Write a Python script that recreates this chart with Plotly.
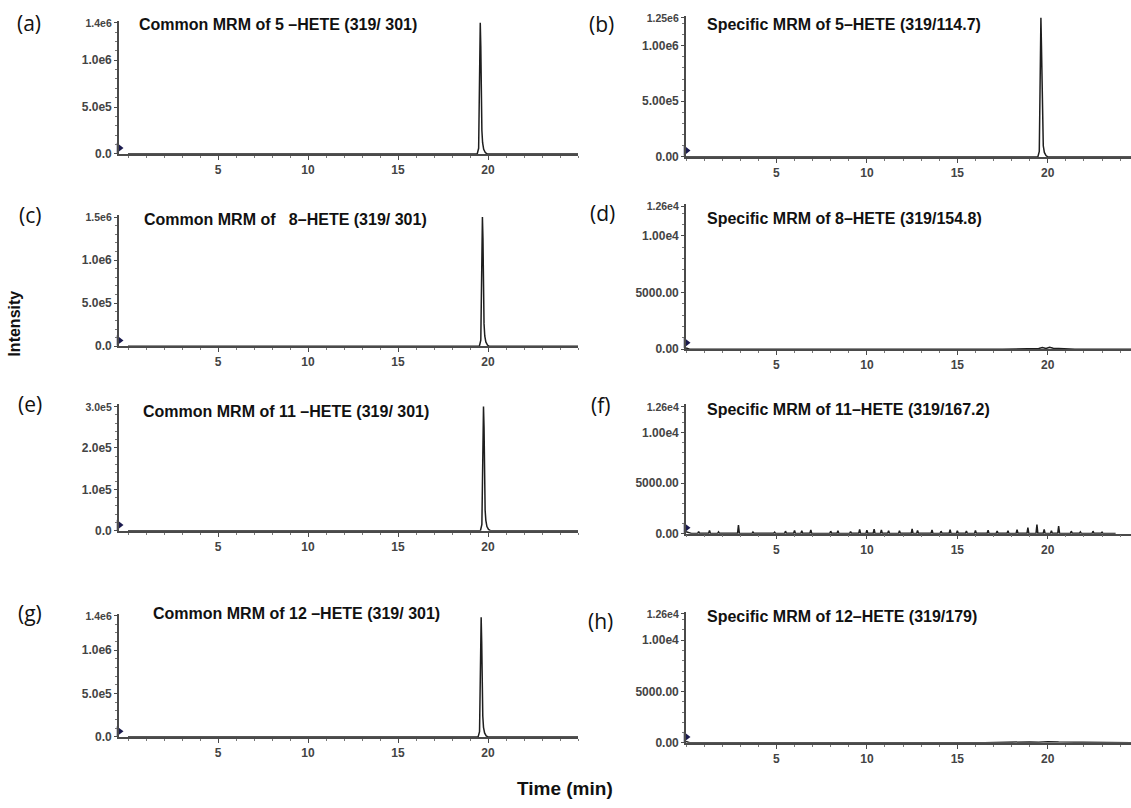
import plotly.graph_objects as go

W, H = 1131, 808

# ---------------- data (time in min, intensity in cps) ----------------
a_time = [0.0, 19.40, 19.48, 19.53, 19.57, 19.60, 19.63, 19.66, 19.70, 19.76, 19.85, 19.95, 25.0]
a_int = [0, 0, 60000, 650000, 1400000, 1150000, 600000, 250000, 120000, 50000, 15000, 0, 0]

b_time = [0.0, 19.45, 19.53, 19.58, 19.62, 19.65, 19.68, 19.71, 19.75, 19.81, 19.90, 20.00, 24.6]
b_int = [0, 0, 50000, 600000, 1250000, 1000000, 550000, 220000, 100000, 40000, 12000, 0, 0]

c_time = [0.0, 19.52, 19.60, 19.65, 19.69, 19.72, 19.75, 19.78, 19.82, 19.88, 19.97, 20.07, 25.0]
c_int = [0, 0, 70000, 700000, 1500000, 1250000, 650000, 260000, 120000, 50000, 15000, 0, 0]

d_time = [0.0, 0.2, 17.5, 18.3, 18.5, 18.9, 19.2, 19.5, 19.7, 19.9, 20.1, 20.3, 20.6, 20.9, 21.5, 24.6]
d_int = [120, 0, 0, 30, 80, 40, 110, 60, 150, 70, 170, 90, 60, 30, 0, 0]

e_time = [0.0, 19.58, 19.66, 19.71, 19.75, 19.78, 19.81, 19.84, 19.88, 19.94, 20.03, 20.13, 25.0]
e_int = [0, 0, 15000, 140000, 300000, 250000, 120000, 50000, 25000, 10000, 3000, 0, 0]

f_time = [
    0.00, 0.30,
    0.65, 0.70, 0.75,
    1.25, 1.30, 1.35,
    1.75, 1.80, 1.85,
    2.85, 2.90, 2.95,
    3.65, 3.70, 3.75,
    4.85, 4.90, 4.95,
    5.45, 5.50, 5.55,
    5.95, 6.00, 6.05,
    6.35, 6.40, 6.45,
    6.85, 6.90, 6.95,
    7.95, 8.00, 8.05,
    8.35, 8.40, 8.45,
    9.05, 9.10, 9.15,
    9.55, 9.60, 9.65,
    9.95, 10.00, 10.05,
    10.35, 10.40, 10.45,
    10.75, 10.80, 10.85,
    11.15, 11.20, 11.25,
    11.75, 11.80, 11.85,
    12.45, 12.50, 12.55,
    12.75, 12.80, 12.85,
    13.55, 13.60, 13.65,
    14.05, 14.10, 14.15,
    14.55, 14.60, 14.65,
    14.95, 15.00, 15.05,
    15.45, 15.50, 15.55,
    15.95, 16.00, 16.05,
    16.65, 16.70, 16.75,
    17.15, 17.20, 17.25,
    17.75, 17.80, 17.85,
    18.25, 18.30, 18.35,
    18.85, 18.90, 18.95,
    19.35, 19.40, 19.45,
    19.75, 19.80, 19.85,
    20.15, 20.20, 20.25,
    20.55, 20.60, 20.65,
    21.25, 21.30, 21.35,
    21.75, 21.80, 21.85,
    22.45, 22.50, 22.55,
    22.95, 23.00, 23.05,
    23.75, 23.80, 23.85,
    24.60,
]
f_int = [
    200, 30,
    30, 220, 40,
    40, 320, 30,
    30, 180, 40,
    40, 850, 30,
    30, 160, 40,
    40, 150, 30,
    30, 250, 40,
    40, 330, 30,
    30, 280, 40,
    40, 380, 30,
    30, 250, 40,
    40, 300, 30,
    30, 220, 40,
    40, 420, 30,
    30, 350, 40,
    40, 450, 30,
    30, 380, 40,
    40, 300, 30,
    30, 280, 40,
    40, 480, 30,
    30, 320, 40,
    40, 360, 30,
    30, 250, 40,
    40, 400, 30,
    30, 300, 40,
    40, 260, 30,
    30, 320, 40,
    40, 350, 30,
    30, 270, 40,
    40, 300, 30,
    30, 400, 40,
    40, 600, 30,
    30, 900, 40,
    40, 420, 30,
    30, 300, 40,
    40, 750, 30,
    30, 250, 40,
    40, 180, 30,
    30, 250, 40,
    40, 150, 30,
    30,
]

g_time = [0.0, 19.45, 19.53, 19.58, 19.62, 19.65, 19.68, 19.71, 19.75, 19.81, 19.90, 20.00, 25.0]
g_int = [0, 0, 60000, 650000, 1380000, 1100000, 580000, 240000, 110000, 45000, 12000, 0, 0]

h_time = [0.0, 0.2, 16.5, 17.2, 17.8, 18.4, 19.0, 19.5, 20.0, 20.6, 21.2, 21.8, 22.5, 24.6]
h_int = [120, 0, 0, 40, 70, 50, 90, 60, 110, 70, 50, 60, 0, 0]

x_tick_vals = [5, 10, 15, 20]
x_tick_text = ["5", "10", "15", "20"]

a_yticks = [0, 500000, 1000000, 1400000]
a_ytext = ["0.0", "5.0e5", "1.0e6", "1.4e6"]
b_yticks = [0, 500000, 1000000, 1250000]
b_ytext = ["0.00", "5.00e5", "1.00e6", "1.25e6"]
c_yticks = [0, 500000, 1000000, 1500000]
c_ytext = ["0.0", "5.0e5", "1.0e6", "1.5e6"]
d_yticks = [0, 5000, 10000, 12600]
d_ytext = ["0.00", "5000.00", "1.00e4", "1.26e4"]
e_yticks = [0, 100000, 200000, 300000]
e_ytext = ["0.0", "1.0e5", "2.0e5", "3.0e5"]
f_yticks = [0, 5000, 10000, 12600]
f_ytext = ["0.00", "5000.00", "1.00e4", "1.26e4"]
g_yticks = [0, 500000, 1000000, 1400000]
g_ytext = ["0.0", "5.0e5", "1.0e6", "1.4e6"]
h_yticks = [0, 5000, 10000, 12600]
h_ytext = ["0.00", "5000.00", "1.00e4", "1.26e4"]

titles = [
    "Common MRM of 5 \u2013HETE (319/ 301)",
    "Specific MRM of 5\u2013HETE (319/114.7)",
    "Common MRM of \u00a0\u00a08\u2013HETE (319/ 301)",
    "Specific MRM of 8\u2013HETE (319/154.8)",
    "Common MRM of 11 \u2013HETE (319/ 301)",
    "Specific MRM of 11\u2013HETE (319/167.2)",
    "Common MRM of 12 \u2013HETE (319/ 301)",
    "Specific MRM of 12\u2013HETE (319/179)",
]
letters = ["(a)", "(b)", "(c)", "(d)", "(e)", "(f)", "(g)", "(h)"]

# ---------------- layout geometry (pixels) ----------------
LEFT = (119, 578, -0.5, 25.0)
RIGHT = (686, 1131, 0.0, 24.6)
# col, top-tick pixel, baseline pixel, minor dtick
geo = [
    (LEFT, 19, 152, 100000),
    (RIGHT, 14, 155, 100000),
    (LEFT, 216, 347, 100000),
    (RIGHT, 205, 350, 1000),
    (LEFT, 408, 534, 20000),
    (RIGHT, 408, 537, 1000),
    (LEFT, 620, 743, 100000),
    (RIGHT, 618, 749, 1000),
]
title_pos = [(137, 21), (705, 21), (142, 218), (705, 217), (141, 413), (705, 411), (151, 618), (705, 621)]
letter_pos = [(29, 19), (601, 20), (30, 214), (602, 212), (30, 406), (600, 407), (30, 617), (600, 626)]

series = [
    (a_time, a_int, a_yticks, a_ytext),
    (b_time, b_int, b_yticks, b_ytext),
    (c_time, c_int, c_yticks, c_ytext),
    (d_time, d_int, d_yticks, d_ytext),
    (e_time, e_int, e_yticks, e_ytext),
    (f_time, f_int, f_yticks, f_ytext),
    (g_time, g_int, g_yticks, g_ytext),
    (h_time, h_int, h_yticks, h_ytext),
]

FONT = "Liberation Sans, Arial, sans-serif"
TICKFONT = dict(family=FONT, size=12, color="#444", weight="bold")
AXCOL = "#4a4a4a"

fig = go.Figure()
layout = dict(
    width=W, height=H, margin=dict(l=0, r=0, t=0, b=0),
    paper_bgcolor="white", plot_bgcolor="white", showlegend=False,
)
annotations = []

for i, ((t, y, yt, ytt), (col, top_px, base_px, ydt)) in enumerate(zip(series, geo)):
    n = i + 1
    xa = "x" if n == 1 else f"x{n}"
    ya = "y" if n == 1 else f"y{n}"
    top_val = yt[-1]
    extra = 2
    ymax = top_val * (base_px - top_px + extra) / (base_px - top_px)
    x0, x1, xmin, xmax = col
    fig.add_trace(go.Scatter(x=t, y=y, mode="lines", xaxis=xa, yaxis=ya,
                             line=dict(color="#1e1e1e", width=1.5), hoverinfo="skip"))
    fig.add_trace(go.Scatter(x=[xmin], y=[ymax * 0.045], mode="markers", xaxis=xa, yaxis=ya,
                             marker=dict(symbol="triangle-right", size=9, color="#1a1a4e"),
                             cliponaxis=False, hoverinfo="skip"))
    ttext = list(ytt[:-1]) + ['<span style="font-size:10.5px">' + ytt[-1] + '</span>']
    layout["xaxis" if n == 1 else f"xaxis{n}"] = dict(
        domain=[x0 / W, min(x1 / W, 1.0)], range=[xmin, xmax], anchor=ya,
        showline=True, linecolor=AXCOL, linewidth=1.6, showgrid=False, zeroline=False,
        tickmode="array", tickvals=x_tick_vals, ticktext=x_tick_text,
        ticks="outside", ticklen=4, tickcolor=AXCOL, tickfont=TICKFONT,
        minor=dict(ticks="outside", ticklen=2, dtick=1, tick0=0, tickcolor="#777", showgrid=False),
    )
    layout["yaxis" if n == 1 else f"yaxis{n}"] = dict(
        domain=[1 - base_px / H, 1 - (top_px - extra) / H], range=[0, ymax], anchor=xa,
        showline=True, linecolor=AXCOL, linewidth=1.6, showgrid=False, zeroline=False,
        tickmode="array", tickvals=yt, ticktext=ttext,
        ticks="outside", ticklen=3, tickcolor=AXCOL, tickfont=TICKFONT,
        minor=dict(ticks="outside", ticklen=2, dtick=ydt, tick0=0, tickcolor="#777", showgrid=False),
    )
    tx, ty = title_pos[i]
    annotations.append(dict(
        text="<b>" + titles[i] + "</b>", x=tx / W, y=1 - ty / H, xref="paper", yref="paper",
        xanchor="left", yanchor="middle", showarrow=False,
        font=dict(family=FONT, size=16, color="#111"),
    ))
    lx, ly = letter_pos[i]
    annotations.append(dict(
        text=letters[i], x=lx / W, y=1 - ly / H, xref="paper", yref="paper",
        xanchor="center", yanchor="middle", showarrow=False,
        font=dict(family="Open Sans, sans-serif", size=21, color="#111"),
    ))

annotations.append(dict(
    text="<b>Intensity</b>", x=15 / W, y=1 - 324 / H, xref="paper", yref="paper",
    textangle=-90, showarrow=False, xanchor="center", yanchor="middle",
    font=dict(family=FONT, size=16, color="#111"),
))
annotations.append(dict(
    text="<b>Time (min)</b>", x=565 / W, y=1 - 795 / H, xref="paper", yref="paper",
    showarrow=False, xanchor="center", yanchor="middle",
    font=dict(family=FONT, size=19, color="#111"),
))

layout["annotations"] = annotations
fig.update_layout(**layout)
fig.write_html("out.html")
